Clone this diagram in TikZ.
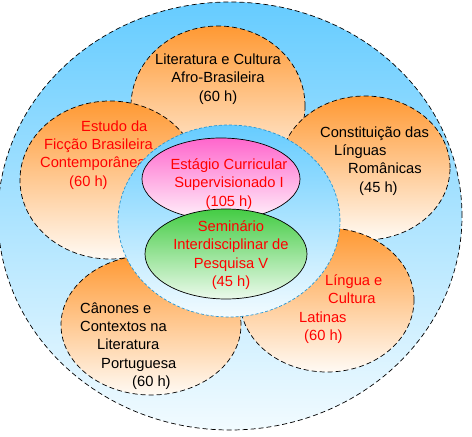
\documentclass[tikz,border=0pt]{standalone}
\usepackage{fontspec}
\setmainfont{Liberation Sans}
\usetikzlibrary{shapes.geometric}

\definecolor{skyblue}{RGB}{102,204,255}
\definecolor{paleblue}{RGB}{242,251,255}
\definecolor{petalorange}{RGB}{255,153,51}
\definecolor{petalwhite}{RGB}{255,250,244}
\definecolor{rosa}{RGB}{255,102,204}
\definecolor{rosawhite}{RGB}{255,242,251}
\definecolor{verde}{RGB}{68,204,68}
\definecolor{verdewhite}{RGB}{236,250,236}
\definecolor{borderblue}{RGB}{40,150,210}
\definecolor{textred}{RGB}{255,0,0}

\tikzset{
  disc/.style={ellipse, inner sep=0pt, line width=0.7bp},
  petal/.style={disc, draw=black, dash pattern=on 5bp off 3bp,
    top color=petalorange, bottom color=petalwhite},
  txt/.style={inner sep=0pt, font=\fontsize{14.7bp}{18.3bp}\selectfont},
  redtxt/.style={txt, text=textred}
}

\begin{document}
\begin{tikzpicture}[x=1bp, y=-1bp]

          \useasboundingbox (0,0) rectangle (472,437);

          % Outer ring
          \node[disc, draw=black, dash pattern=on 5bp off 3bp,
                top color=skyblue, bottom color=paleblue,
                minimum width=464bp, minimum height=428bp] (outer) at (230,216) {};

          % The five petals
          \node[petal, minimum width=174bp, minimum height=160bp] (ptop) at (218,106) {};
          \node[petal, minimum width=180bp, minimum height=158bp] (pleft) at (110,180) {};
          \node[petal, minimum width=170bp, minimum height=144bp] (pright) at (365,168) {};
          \node[petal, minimum width=174bp, minimum height=144bp] (pbotright) at (327,300) {};
          \node[petal, minimum width=180bp, minimum height=140bp] (pbotleft) at (151,325) {};

          % Petal texts
          \node[txt, align=center] (ttop) at (218,79) {Literatura e Cultura\\Afro-Brasileira\\(60 h)};
          \node[redtxt, align=left, anchor=west] (tleft) at (40,155)
               {\hspace*{41bp}Estudo da\\\hspace*{4bp}Ficção Brasileira\\Contemporânea\\\hspace*{29bp}(60 h)};
          \node[txt, align=left, anchor=west] (tright) at (320,161)
               {Constituição das\\\hspace*{14bp}Línguas\\\hspace*{28bp}Românicas\\\hspace*{39bp}(45 h)};
          \node[txt, align=left, anchor=west] (tbotleft) at (80,346)
               {Cânones e\\Contextos na\\\hspace*{17bp}Literatura\\\hspace*{21bp}Portuguesa\\\hspace*{52bp}(60 h)};
          \node[redtxt, align=left, anchor=west] (tbotright) at (299,309)
               {\hspace*{26bp}Língua e\\\hspace*{29bp}Cultura\\Latinas\\\hspace*{5bp}(60 h)};

          % Core circle with the two inner ellipses
          \node[disc, draw=borderblue, dash pattern=on 3bp off 2bp,
                top color=skyblue, bottom color=paleblue,
                minimum width=222bp, minimum height=192bp] (core) at (229,221) {};
          \node[disc, draw=black, top color=rosa, bottom color=rosawhite,
                minimum width=158bp, minimum height=82bp] (estagio) at (221,179) {};
          \node[disc, draw=black, top color=verde, bottom color=verdewhite,
                minimum width=162bp, minimum height=90bp] (seminario) at (226,254) {};

          \node[redtxt, align=center] (testagio) at (229,184) {Estágio Curricular\\Supervisionado I\\(105 h)};
          \node[redtxt, align=center] (tseminario) at (231,255) {Seminário\\Interdisciplinar de\\Pesquisa V\\(45 h)};

\end{tikzpicture}
\end{document}
